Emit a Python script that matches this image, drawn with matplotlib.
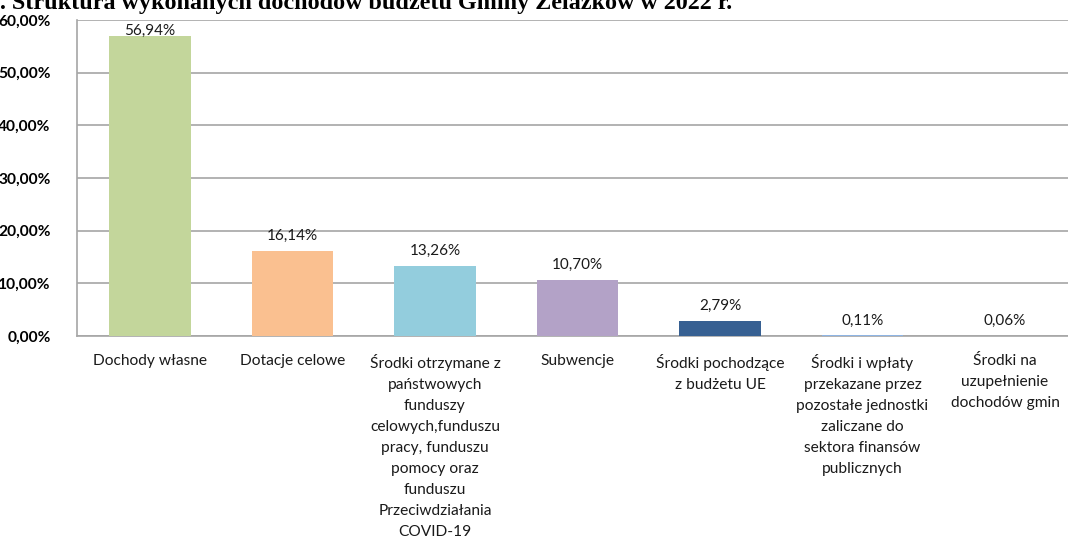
import matplotlib
matplotlib.use("Agg")
import matplotlib.pyplot as plt
from matplotlib.ticker import FuncFormatter

plt.rcParams['font.family'] = ['Lato', 'DejaVu Sans']

categories = [
    "Dochody własne",
    "Dotacje celowe",
    "Środki otrzymane z\npaństwowych\nfunduszy\ncelowych,funduszu\npracy, funduszu\npomocy oraz\nfunduszu\nPrzeciwdziałania\nCOVID-19",
    "Subwencje",
    "Środki pochodzące\nz budżetu UE",
    "Środki i wpłaty\nprzekazane przez\npozostałe jednostki\nzaliczane do\nsektora finansów\npublicznych",
    "Środki na\nuzupełnienie\ndochodów gmin",
]
shares = [56.94, 16.14, 13.26, 10.70, 2.79, 0.11, 0.06]
colors = ['#C3D69B', '#FAC090', '#93CDDD', '#B3A2C7', '#376092', '#8EB4E3', '#D99694']
title = ". Struktura wykonanych dochodów budżetu Gminy Żelazków w 2022 r."

fig = plt.figure(figsize=(10.68, 5.39), dpi=100)
ax = fig.add_axes([77 / 1068, 1 - 336 / 539, 991 / 1068, 316 / 539])

x = list(range(len(shares)))
ax.bar(x, shares, width=0.57, color=colors, zorder=3)

for xi, v in zip(x, shares):
    off = 15 if v < 55 else 5
    ax.annotate(f"{v:.2f}%".replace('.', ','), (xi, v), xytext=(0, off),
                textcoords='offset pixels', ha='center', va='center',
                fontsize=11, color='#1a1a1a', zorder=4)

ax.set_ylim(0, 60)
ax.set_xlim(-0.512, 6.442)
ax.set_yticks(range(0, 61, 10))
ax.yaxis.set_major_formatter(FuncFormatter(lambda v, p: f"{v:.2f}%".replace('.', ',')))
ax.grid(axis='y', color='#a6a6a6', linewidth=1.2, zorder=0)
ax.set_xticks(x)
ax.set_xticklabels(categories, fontsize=11.2, linespacing=1.64, va='top', color='#1a1a1a')
ax.tick_params(axis='x', length=0, pad=13)
ax.tick_params(axis='y', length=0, pad=19)
for lbl in ax.get_yticklabels():
    lbl.set_fontweight('bold')
    lbl.set_fontsize(11.2)

for s in ['top', 'right']:
    ax.spines[s].set_visible(False)
for s in ['left', 'bottom']:
    ax.spines[s].set_color('#a6a6a6')
    ax.spines[s].set_linewidth(1.2)

fig.text(0.0, 1 - 9 / 539, title, fontfamily='Liberation Serif', fontweight='bold',
         fontsize=17.4, va='baseline', ha='left')

fig.savefig('out.png', dpi=100)
